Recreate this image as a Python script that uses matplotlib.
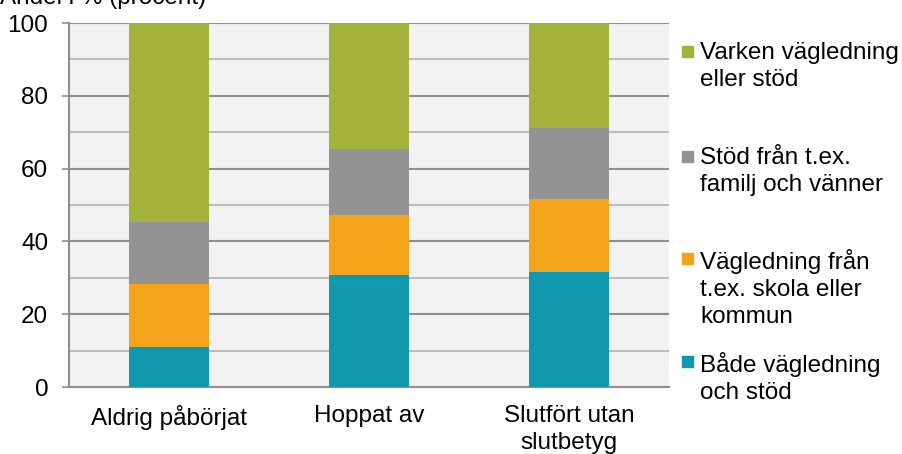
import matplotlib.pyplot as plt
from matplotlib.patches import Rectangle
import numpy as np

plt.rcParams['font.family'] = ['Liberation Sans', 'DejaVu Sans']

# Данные
categories = ['Aldrig påbörjat', 'Hoppat av', 'Slutfört utan\nslutbetyg']
bade = [11.0, 30.9, 31.5]
vagledning = [17.4, 16.4, 20.2]
stod = [16.8, 18.1, 19.5]
varken = [54.8, 34.6, 28.8]

series_labels = ['Både vägledning\noch stöd',
                 'Vägledning från\nt.ex. skola eller\nkommun',
                 'Stöd från t.ex.\nfamilj och vänner',
                 'Varken vägledning\neller stöd']
colors = ['#1197AE', '#F4A41A', '#939393', '#A2B23A']

fs = 17.5

fig = plt.figure(figsize=(9.02, 4.54), dpi=100)
ax = fig.add_axes([69 / 902, 1 - 387 / 454, 600 / 902, 364 / 454])
ax.set_facecolor('#F2F2F2')

x = np.arange(len(categories))
bottom = np.zeros(len(categories))
for vals, c in zip([bade, vagledning, stod, varken], colors):
    ax.bar(x, vals, 0.4, bottom=bottom, color=c, zorder=3)
    bottom += np.array(vals)

ax.set_xlim(-0.5, 2.5)
ax.set_ylim(0, 100)

# Сетка: основные и промежуточные линии
for v in range(10, 101, 20):
    ax.axhline(v, color='#BDBDBD', lw=1.5, zorder=1)
for v in range(20, 101, 20):
    ax.axhline(v, color='#8F8F8F', lw=1.5, zorder=1)

ax.set_yticks(range(0, 101, 20))
ax.set_xticks(x)
ax.set_xticklabels(categories, fontsize=fs, linespacing=1.28)
ax.tick_params(axis='x', length=0, pad=13)
ax.tick_params(axis='y', labelsize=fs, length=5, width=1.2, color='#8F8F8F', pad=10)
for s in ['top', 'right']:
    ax.spines[s].set_visible(False)
for s in ['left', 'bottom']:
    ax.spines[s].set_color('#8F8F8F')
    ax.spines[s].set_linewidth(1.5)

fig.text(0.0, 1 - 4 / 454, 'Andel i % (procent)', fontsize=fs, va='baseline', ha='left')

# Легенда вручную
legend_y = [52, 157, 259, 362]
for lab, c, yy in zip(series_labels[::-1], colors[::-1], legend_y):
    fig.patches.append(Rectangle((682 / 902, 1 - (yy + 5) / 454), 11 / 902, 11 / 454,
                                 transform=fig.transFigure, color=c))
    fig.text(700 / 902, 1 - (yy - 10) / 454, lab, fontsize=fs, va='top', ha='left',
             linespacing=1.3)

plt.savefig('out.png', dpi=100)
